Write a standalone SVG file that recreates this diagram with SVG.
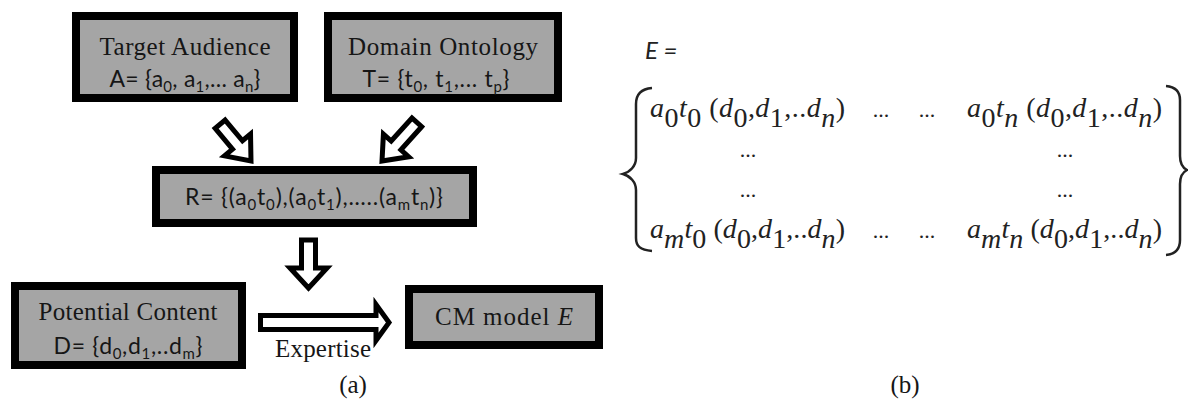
<svg xmlns="http://www.w3.org/2000/svg" width="1188" height="405" viewBox="0 0 1188 405">
  <style>
    .box { fill: #a5a5a5; stroke: #000; stroke-width: 8; }
    .ser { font-family: "Liberation Serif", "Times New Roman", serif; font-size: 25px; fill: #161616; text-anchor: middle; }
    .sans { font-family: Lato, "Open Sans", sans-serif; font-size: 23px; fill: #161616; text-anchor: middle; }
    .sub { font-size: 15px; }
    .arrow { fill: #fff; stroke: #000; stroke-width: 5; stroke-linejoin: miter; }
    .m { font-family: "Liberation Serif", "Times New Roman", serif; font-size: 28px; font-style: italic; fill: #222; }
    .u { font-style: normal; }
    .dots { font-family: "Liberation Serif", "Times New Roman", serif; font-size: 22px; fill: #222; text-anchor: middle; }
    .brace { fill: none; stroke: #222; stroke-width: 2.5; }
  </style>

  <!-- (a) flow of sets -->
  <g id="target-audience">
    <rect class="box" x="76" y="16" width="218" height="82"/>
    <text class="ser" x="185" y="55" textLength="171" lengthAdjust="spacing">Target Audience</text>
    <text class="sans" x="185" y="87" textLength="151" lengthAdjust="spacing">A= {a<tspan class="sub" dy="5">0</tspan><tspan dy="-5">, a</tspan><tspan class="sub" dy="5">1</tspan><tspan dy="-5">,... a</tspan><tspan class="sub" dy="5">n</tspan><tspan dy="-5">}</tspan></text>
  </g>

  <g id="domain-ontology">
    <rect class="box" x="328" y="16" width="230" height="82"/>
    <text class="ser" x="443" y="55" textLength="190" lengthAdjust="spacing">Domain Ontology</text>
    <text class="sans" x="436" y="87" textLength="147" lengthAdjust="spacing">T= {t<tspan class="sub" dy="5">0</tspan><tspan dy="-5">, t</tspan><tspan class="sub" dy="5">1</tspan><tspan dy="-5">,... t</tspan><tspan class="sub" dy="5">p</tspan><tspan dy="-5">}</tspan></text>
  </g>

  <g id="relation">
    <rect class="box" x="156" y="170" width="317" height="53"/>
    <text class="sans" x="314" y="205" textLength="258" lengthAdjust="spacing">R= {(a<tspan class="sub" dy="5">0</tspan><tspan dy="-5">t</tspan><tspan class="sub" dy="5">0</tspan><tspan dy="-5">),(a</tspan><tspan class="sub" dy="5">0</tspan><tspan dy="-5">t</tspan><tspan class="sub" dy="5">1</tspan><tspan dy="-5">),…..(a</tspan><tspan class="sub" dy="5">m</tspan><tspan dy="-5">t</tspan><tspan class="sub" dy="5">n</tspan><tspan dy="-5">)}</tspan></text>
  </g>

  <g id="potential-content">
    <rect class="box" x="15" y="286" width="227" height="79"/>
    <text class="ser" x="128" y="320" textLength="179" lengthAdjust="spacing">Potential Content</text>
    <text class="sans" x="128" y="354" textLength="149" lengthAdjust="spacing">D= {d<tspan class="sub" dy="5">0</tspan><tspan dy="-5">,d</tspan><tspan class="sub" dy="5">1</tspan><tspan dy="-5">,..d</tspan><tspan class="sub" dy="5">m</tspan><tspan dy="-5">}</tspan></text>
  </g>

  <g id="cm-model">
    <rect class="box" x="409" y="289" width="190" height="56"/>
    <text class="ser" x="504" y="325" textLength="138" lengthAdjust="spacing">CM model  <tspan font-style="italic">E</tspan></text>
  </g>

  <!-- hollow block arrows -->
  <g id="connectors">
    <polygon class="arrow" transform="translate(251,161) rotate(50)" points="-48,-6.5 -21,-6.5 -21,-17 0,0 -21,17 -21,6.5 -48,6.5"/>
    <polygon class="arrow" transform="translate(382,161) rotate(132)" points="-52,-6.5 -21,-6.5 -21,-17 0,0 -21,17 -21,6.5 -52,6.5"/>
    <polygon class="arrow" transform="translate(308.5,288) rotate(90)" points="-48,-7 -20,-7 -20,-18.5 0,0 -20,18.5 -20,7 -48,7"/>
    <polygon class="arrow" points="260.5,315.5 376,315.5 376,304.5 389,322.5 376,340.5 376,329.5 260.5,329.5"/>
    <text class="ser" x="323" y="357" textLength="96" lengthAdjust="spacing">Expertise</text>
  </g>

  <text class="ser" x="353" y="393" font-size="22">(a)</text>

  <!-- (b) expertise matrix -->
  <g id="matrix">
    <text x="645" y="59" font-family="Lato, 'Open Sans', sans-serif" font-size="24" font-style="italic" fill="#222">E =</text>

    <path class="brace" d="M652,88 C640,89 636,95 636,104 L636,158 C636,166 630,172 623,174 C630,176 636,182 636,190 L636,238 C636,246 640,250 652,251"/>
    <path class="brace" d="M1166,86 C1176,87 1180,92 1180,100 L1180,156 C1180,164 1183,168 1187,170 C1183,172 1180,176 1180,184 L1180,240 C1180,248 1176,254 1166,255"/>

    <!-- row 1 -->
    <text class="m" x="650" y="117" textLength="195" lengthAdjust="spacing">a<tspan class="u" dy="10">0</tspan><tspan dy="-10">t</tspan><tspan class="u" dy="10">0</tspan><tspan class="u" dy="-10"> (</tspan>d<tspan class="u" dy="10">0</tspan><tspan class="u" dy="-10">,</tspan>d<tspan class="u" dy="10">1</tspan><tspan class="u" dy="-10">,..</tspan>d<tspan dy="10">n</tspan><tspan class="u" dy="-10">)</tspan></text>
    <text class="dots" x="881" y="117">...</text>
    <text class="dots" x="927" y="117">...</text>
    <text class="m" x="967" y="117" textLength="195" lengthAdjust="spacing">a<tspan class="u" dy="10">0</tspan><tspan dy="-10">t</tspan><tspan dy="10">n</tspan><tspan class="u" dy="-10"> (</tspan>d<tspan class="u" dy="10">0</tspan><tspan class="u" dy="-10">,</tspan>d<tspan class="u" dy="10">1</tspan><tspan class="u" dy="-10">,..</tspan>d<tspan dy="10">n</tspan><tspan class="u" dy="-10">)</tspan></text>

    <!-- rows 2 and 3 -->
    <text class="dots" x="748" y="157">...</text>
    <text class="dots" x="1065" y="157">...</text>
    <text class="dots" x="748" y="197">...</text>
    <text class="dots" x="1065" y="197">...</text>

    <!-- row 4 -->
    <text class="m" x="650" y="238" textLength="195" lengthAdjust="spacing">a<tspan dy="10">m</tspan><tspan dy="-10">t</tspan><tspan class="u" dy="10">0</tspan><tspan class="u" dy="-10"> (</tspan>d<tspan class="u" dy="10">0</tspan><tspan class="u" dy="-10">,</tspan>d<tspan class="u" dy="10">1</tspan><tspan class="u" dy="-10">,..</tspan>d<tspan dy="10">n</tspan><tspan class="u" dy="-10">)</tspan></text>
    <text class="dots" x="881" y="238">...</text>
    <text class="dots" x="927" y="238">...</text>
    <text class="m" x="967" y="238" textLength="195" lengthAdjust="spacing">a<tspan dy="10">m</tspan><tspan dy="-10">t</tspan><tspan dy="10">n</tspan><tspan class="u" dy="-10"> (</tspan>d<tspan class="u" dy="10">0</tspan><tspan class="u" dy="-10">,</tspan>d<tspan class="u" dy="10">1</tspan><tspan class="u" dy="-10">,..</tspan>d<tspan dy="10">n</tspan><tspan class="u" dy="-10">)</tspan></text>
  </g>

  <text class="ser" x="905" y="393" font-size="22">(b)</text>
</svg>
